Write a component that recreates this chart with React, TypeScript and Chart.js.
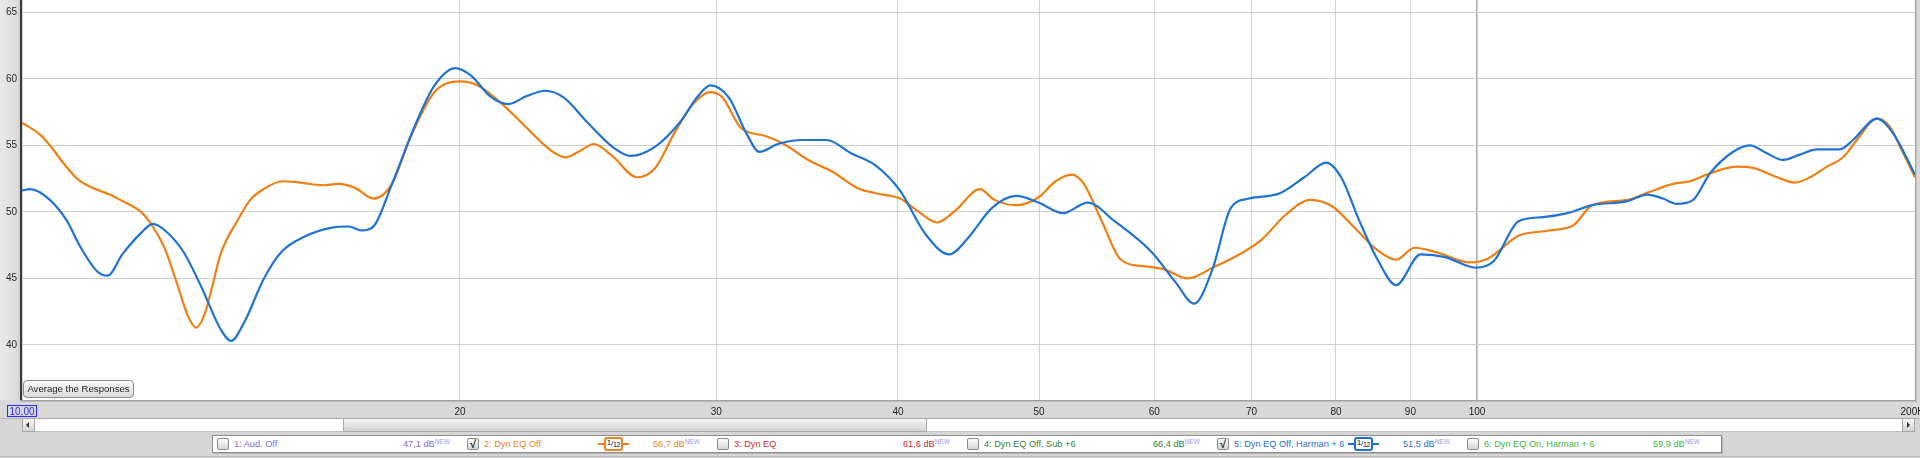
import React, { useEffect, useRef } from 'react';
import { Chart, registerables } from 'chart.js';

Chart.register(...registerables);

// ---- data (frequency in Hz, level in dB) ----
const orangeFreq = [10.0, 10.29, 10.45, 10.67, 10.91, 11.13, 11.49, 11.68, 12.07, 12.3, 12.54, 12.79, 13.0, 13.17, 13.35, 13.5, 13.69, 14.09, 14.35, 14.65, 15.1, 15.53, 16.1, 16.5, 16.94, 17.44, 17.96, 18.49, 19.21, 19.98, 20.57, 21.38, 22.23, 23.1, 23.64, 24.11, 24.72, 25.45, 26.46, 27.24, 28.04, 28.87, 29.72, 30.3, 31.2, 32.43, 33.39, 34.71, 36.08, 37.5, 38.6, 40.13, 41.33, 42.55, 43.8, 45.53, 46.6, 48.25, 49.96, 51.33, 52.65, 53.68, 55.27, 56.91, 59.15, 60.88, 63.29, 65.8, 68.39, 71.1, 73.91, 76.82, 79.55, 82.22, 85.45, 87.98, 90.59, 94.17, 98.84, 101.8, 106.8, 112.1, 116.5, 120.0, 126.9, 131.4, 136.4, 140.1, 144.6, 150.9, 154.8, 160.8, 165.4, 169.4, 174.0, 178.5, 182.4, 188.3, 192.2, 195.9, 200.0];
const orangeDb = [56.7, 55.8, 55.0, 53.7, 52.5, 51.9, 51.3, 50.9, 50.0, 48.9, 47.2, 44.5, 42.2, 41.3, 42.3, 44.2, 46.8, 49.5, 50.9, 51.7, 52.3, 52.2, 52.0, 52.1, 51.8, 51.0, 52.1, 55.6, 59.0, 59.8, 59.5, 58.1, 56.3, 54.6, 54.1, 54.5, 55.1, 54.2, 52.6, 53.3, 55.8, 58.0, 59.0, 58.6, 56.3, 55.7, 55.1, 53.9, 53.0, 51.8, 51.4, 51.0, 50.0, 49.2, 50.1, 51.7, 50.9, 50.5, 51.1, 52.3, 52.8, 52.1, 49.2, 46.4, 45.9, 45.7, 45.0, 45.8, 46.7, 47.9, 49.8, 50.9, 50.4, 48.9, 47.1, 46.4, 47.3, 46.9, 46.2, 46.5, 48.2, 48.6, 49.0, 50.5, 50.9, 51.5, 52.1, 52.3, 52.9, 53.4, 53.3, 52.6, 52.2, 52.6, 53.4, 54.1, 55.4, 57.0, 56.4, 54.6, 52.6];

const blueFreq = [10.0, 10.13, 10.45, 10.74, 10.95, 11.27, 11.45, 11.72, 12.07, 12.3, 12.54, 12.91, 13.29, 13.69, 13.92, 14.23, 14.65, 15.08, 15.68, 16.3, 16.78, 17.11, 17.44, 17.96, 18.66, 19.21, 19.86, 20.37, 20.97, 21.59, 22.23, 22.88, 23.56, 24.48, 25.45, 26.2, 27.24, 28.31, 29.15, 29.72, 30.6, 31.5, 32.12, 33.07, 34.38, 35.73, 37.14, 38.6, 40.13, 41.73, 43.38, 44.66, 46.42, 48.25, 49.96, 51.94, 54.0, 56.35, 59.73, 62.07, 63.91, 65.8, 67.74, 69.73, 73.2, 76.09, 78.79, 80.65, 83.03, 85.45, 87.98, 91.47, 95.08, 99.8, 102.7, 106.8, 111.0, 115.4, 120.0, 126.9, 130.9, 134.2, 137.2, 140.8, 144.6, 149.9, 154.0, 158.2, 162.3, 166.7, 171.3, 177.6, 181.3, 188.3, 193.2, 200.0];
const blueDb = [51.6, 51.7, 50.9, 49.3, 47.5, 45.5, 45.2, 46.8, 48.4, 49.1, 48.6, 47.0, 44.3, 41.2, 40.3, 41.8, 44.9, 47.0, 48.2, 48.8, 48.9, 48.6, 48.9, 52.1, 56.7, 59.5, 60.8, 60.2, 58.7, 58.1, 58.7, 59.1, 58.6, 56.7, 54.9, 54.2, 54.9, 56.7, 58.7, 59.5, 58.6, 55.8, 54.5, 55.1, 55.4, 55.4, 54.4, 53.5, 51.6, 48.4, 46.8, 48.0, 50.3, 51.2, 50.7, 49.9, 50.7, 49.3, 47.0, 44.7, 43.1, 45.7, 50.3, 51.0, 51.4, 52.6, 53.7, 52.6, 49.3, 46.4, 44.5, 46.8, 46.6, 45.8, 46.3, 49.3, 49.6, 49.9, 50.5, 50.8, 51.3, 51.0, 50.6, 50.9, 52.9, 54.5, 55.0, 54.4, 53.9, 54.3, 54.7, 54.7, 55.4, 57.0, 55.9, 52.8];

const xTickValues = [10, 20, 30, 40, 50, 60, 70, 80, 90, 100, 200];
const yTickValues = [40, 45, 50, 55, 60, 65];

const legendNames = ['1: Aud. Off', '2: Dyn EQ Off', '3: Dyn EQ', '4: Dyn EQ Off, Sub +6', '5: Dyn EQ Off, Harman + 6', '6: Dyn EQ On, Harman + 6'];
const legendValues = ['47,1 dB', '56,7 dB', '61,6 dB', '66,4 dB', '51,5 dB', '59,9 dB'];
const legendColors = ['#7b6ef2', '#f0821e', '#d42a22', '#2f7f33', '#1f6fd3', '#3db83d'];
const legendChecked = [false, true, false, false, true, false];

const ORANGE = '#f07f14';
const BLUE = '#1f73d2';
const FONT = '"Liberation Sans", Arial, sans-serif';

function toPoints(f: number[], d: number[]) {
  return f.map((x, i) => ({ x, y: d[i] }));
}

const framePlugin = {
  id: 'frame',
  beforeDraw(chart: any) {
    const { ctx, chartArea: a, width, height } = chart;
    ctx.save();
    ctx.fillStyle = '#d8d8d8';
    ctx.fillRect(0, 0, width, height);
    const g = ctx.createLinearGradient(0, 0, a.left, 0);
    g.addColorStop(0, '#e8e8e8');
    g.addColorStop(0.75, '#dedede');
    g.addColorStop(1, '#c6c6c6');
    ctx.fillStyle = g;
    ctx.fillRect(0, 0, a.left, a.bottom);
    ctx.fillStyle = '#ffffff';
    ctx.fillRect(a.left, a.top, a.right - a.left, a.bottom - a.top);
    ctx.restore();
  },
  afterDraw(chart: any) {
    const { ctx, chartArea: a, width, height } = chart;
    ctx.save();
    ctx.fillStyle = '#3a3a3a';
    ctx.fillRect(a.left - 2, 0, 2, a.bottom + 1);
    ctx.fillStyle = '#a2a2a2';
    ctx.fillRect(a.left - 2, a.bottom, a.right - a.left + 4, 1);
    ctx.fillStyle = '#bdbdbd';
    ctx.fillRect(a.left - 2, a.bottom + 1, a.right - a.left + 4, 1);
    ctx.fillStyle = '#a2a2a2';
    ctx.fillRect(a.right, 0, 1, a.bottom + 1);
    ctx.fillStyle = '#c4c4c4';
    ctx.fillRect(a.right + 1, 0, 1, a.bottom + 1);
    ctx.fillStyle = '#b4b4b4';
    ctx.fillRect(0, height - 2, width, 1);
    const xs = chart.scales.x;
    const px = xs.getPixelForValue(10);
    ctx.font = '10px ' + FONT;
    const tw = ctx.measureText('10,00').width;
    ctx.strokeStyle = '#2b2bff';
    ctx.lineWidth = 1;
    ctx.strokeRect(Math.round(px - tw / 2 - 2) + 0.5, a.bottom + 5.5, Math.round(tw + 4), 11);
    ctx.restore();
  },
};

function Checkbox({ checked }: { checked: boolean }) {
  return (
    <div
      style={{
        position: 'absolute',
        width: 12,
        height: 12,
        boxSizing: 'border-box',
        border: '1px solid #8a8a8a',
        borderRadius: 2,
        background: 'linear-gradient(#fdfdfd, #d6d6d6)',
        fontSize: 11,
        lineHeight: '11px',
        textAlign: 'center',
        fontWeight: 'bold',
        color: '#2a2a2a',
        fontFamily: FONT,
      }}
    >
      {checked ? '√' : ''}
    </div>
  );
}

function Badge({ color }: { color: string }) {
  return (
    <div style={{ position: 'absolute', width: 31, height: 14 }}>
      <div style={{ position: 'absolute', left: 0, top: 6, width: 31, height: 2, background: color }} />
      <div
        style={{
          position: 'absolute',
          left: 6,
          top: 0,
          width: 19,
          height: 14,
          boxSizing: 'border-box',
          border: `2px solid ${color}`,
          borderRadius: 3,
          background: '#fff',
          fontSize: 8,
          lineHeight: '10px',
          textAlign: 'center',
          color: '#111',
          fontFamily: FONT,
          letterSpacing: -0.3,
        }}
      >
        <span style={{ position: 'relative', top: -1 }}>1</span>/<span style={{ fontSize: 7, position: 'relative', top: 1 }}>12</span>
      </div>
    </div>
  );
}

export default function App() {
  const ref = useRef<HTMLCanvasElement | null>(null);

  useEffect(() => {
    const canvas = ref.current;
    if (!canvas) return;
    const chart = new Chart(canvas, {
      type: 'line',
      data: {
        datasets: [
          {
            label: '5: Dyn EQ Off, Harman + 6',
            data: toPoints(blueFreq, blueDb),
            borderColor: BLUE,
            borderWidth: 2.2,
            pointRadius: 0,
            cubicInterpolationMode: 'monotone',
            order: 1,
          },
          {
            label: '2: Dyn EQ Off',
            data: toPoints(orangeFreq, orangeDb),
            borderColor: ORANGE,
            borderWidth: 2.2,
            pointRadius: 0,
            cubicInterpolationMode: 'monotone',
            order: 2,
          },
        ],
      },
      options: {
        animation: false,
        responsive: false,
        devicePixelRatio: 1,
        events: [],
        layout: { padding: { left: 0, right: 5, top: 0, bottom: 0 }, autoPadding: false },
        plugins: { legend: { display: false }, tooltip: { enabled: false } },
        scales: {
          x: {
            type: 'logarithmic',
            min: 10,
            max: 200,
            afterBuildTicks: (s: any) => {
              s.ticks = xTickValues.map((v) => ({ value: v }));
            },
            afterFit: (s: any) => {
              s.height = 20;
              s.paddingLeft = 0;
              s.paddingRight = 0;
            },
            border: { display: false },
            grid: {
              drawTicks: false,
              color: (c: any) => (c.tick && c.tick.value === 100 ? '#a8a8a8' : '#d3d3d3'),
              lineWidth: (c: any) => (c.tick && c.tick.value === 100 ? 1.5 : 1),
            },
            ticks: {
              autoSkip: false,
              maxRotation: 0,
              minRotation: 0,
              padding: 6,
              font: { family: FONT, size: 10 },
              color: (c: any) => (c.tick && c.tick.value === 10 ? '#2b2bff' : '#222222'),
              callback: (v: any) => (v === 10 ? '10,00' : v === 200 ? '200Hz' : String(v)),
            },
          },
          y: {
            type: 'linear',
            min: 35.86,
            max: 65.92,
            afterBuildTicks: (s: any) => {
              s.ticks = yTickValues.map((v) => ({ value: v }));
            },
            afterFit: (s: any) => {
              s.width = 22;
              s.paddingTop = 0;
              s.paddingBottom = 0;
            },
            border: { display: false },
            grid: { drawTicks: false, color: '#cdcdcd' },
            ticks: {
              padding: 5,
              font: { family: FONT, size: 10 },
              color: '#2a2a2a',
              callback: (v: any) => String(v),
            },
          },
        },
      } as any,
      plugins: [framePlugin],
    });
    return () => chart.destroy();
  }, []);

  const legendItems = legendNames.map((name, i) => {
    const base = 217 + 250 * i;
    const color = legendColors[i];
    return (
      <React.Fragment key={name}>
        <div style={{ position: 'absolute', left: base, top: 438 }}>
          <Checkbox checked={legendChecked[i]} />
        </div>
        <div
          style={{
            position: 'absolute',
            left: base + 17,
            top: 438,
            height: 12,
            fontSize: 9.2,
            lineHeight: '12px',
            color,
            whiteSpace: 'nowrap',
          }}
        >
          {name}
        </div>
        {legendChecked[i] ? (
          <div style={{ position: 'absolute', left: base + 131, top: 437 }}>
            <Badge color={color} />
          </div>
        ) : null}
        <div
          style={{
            position: 'absolute',
            left: base + 186,
            top: 438,
            height: 12,
            fontSize: 9.2,
            lineHeight: '12px',
            color,
            whiteSpace: 'nowrap',
          }}
        >
          {legendValues[i]}
          <span style={{ fontSize: 6.5, lineHeight: '0px', color: '#9c9cf4', position: 'relative', top: -3 }}>NEW</span>
        </div>
      </React.Fragment>
    );
  });

  return (
    <div
      style={{
        position: 'absolute',
        left: 0,
        top: 0,
        width: 1920,
        height: 458,
        overflow: 'hidden',
        background: '#d6d6d6',
        fontFamily: FONT,
      }}
    >
      <canvas ref={ref} width={1920} height={420} style={{ position: 'absolute', left: 0, top: 0, width: 1920, height: 420 }} />
      <div
        style={{
          position: 'absolute',
          left: 23,
          top: 380,
          width: 111,
          height: 18,
          boxSizing: 'border-box',
          border: '1px solid #8c8c8c',
          borderRadius: 4,
          background: 'linear-gradient(#fbfbfb, #d9d9d9)',
          fontSize: 9.6,
          lineHeight: '16px',
          textAlign: 'center',
          color: '#1e1e1e',
          whiteSpace: 'nowrap',
        }}
      >
        Average the Responses
      </div>
      <div style={{ position: 'absolute', left: 22, top: 418, width: 1893, height: 14, boxSizing: 'border-box', background: '#fff', borderTop: '1px solid #a8a8a8', borderBottom: '1px solid #bdbdbd' }} />
      <div style={{ position: 'absolute', left: 22, top: 418, width: 13, height: 14, boxSizing: 'border-box', border: '1px solid #a4a4a4', background: 'linear-gradient(#f6f6f6, #d4d4d4)' }}>
        <div style={{ position: 'absolute', left: 3, top: 3, width: 0, height: 0, borderTop: '3px solid transparent', borderBottom: '3px solid transparent', borderRight: '3px solid #333' }} />
      </div>
      <div style={{ position: 'absolute', left: 343, top: 418, width: 584, height: 14, boxSizing: 'border-box', border: '1px solid #a8a8a8', borderRadius: 2, background: 'linear-gradient(#f7f7f7, #d2d2d2)' }} />
      <div style={{ position: 'absolute', left: 1902, top: 418, width: 13, height: 14, boxSizing: 'border-box', border: '1px solid #a4a4a4', background: 'linear-gradient(#f6f6f6, #d4d4d4)' }}>
        <div style={{ position: 'absolute', left: 4, top: 3, width: 0, height: 0, borderTop: '3px solid transparent', borderBottom: '3px solid transparent', borderLeft: '3px solid #333' }} />
      </div>
      <div style={{ position: 'absolute', left: 212, top: 435, width: 1510, height: 18, boxSizing: 'border-box', background: '#fff', border: '1px solid #8e8e8e', boxShadow: '1px 1px 0 #b4b4b4' }} />
      {legendItems}
      <div style={{ position: 'absolute', left: 0, top: 456, width: 1920, height: 1, background: '#bcbcbc' }} />
    </div>
  );
}
